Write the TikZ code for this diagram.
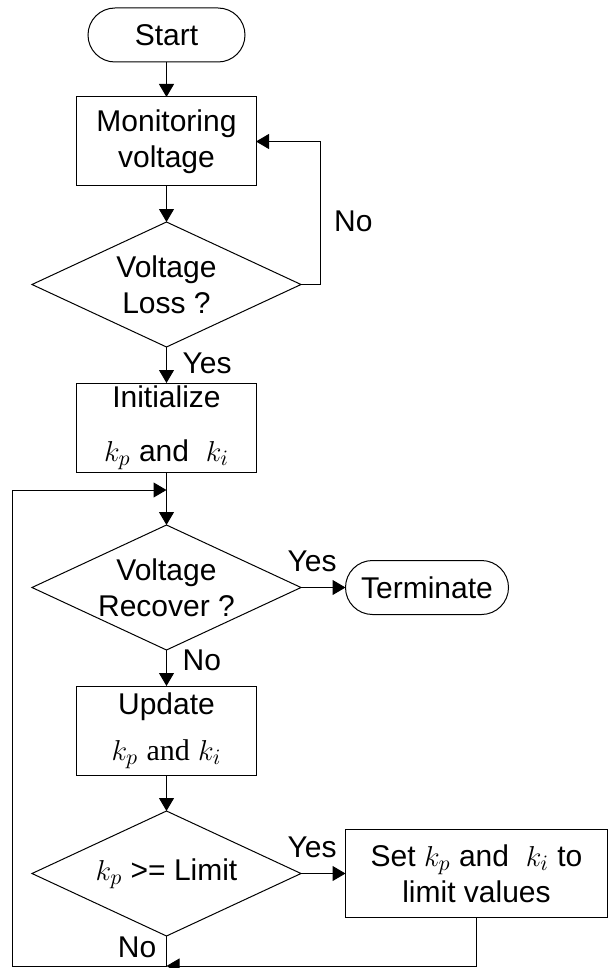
\documentclass[tikz,border=0pt]{standalone}
\usepackage{fontspec}
\setmainfont{Liberation Sans}
\newfontfamily\timesfont{Liberation Serif}
\usepackage{tikz}
\usetikzlibrary{arrows.meta,positioning,shapes.geometric}

\begin{document}
\begin{tikzpicture}[node distance=18pt and 22.25pt,line width=0.5pt,
 every node/.style={font=\fontsize{15}{18}\selectfont},
 box/.style={draw,align=center,minimum width=89.5pt,minimum height=44.5pt,inner sep=1pt,outer sep=0pt},
 terminal/.style={draw,rounded corners=13.5pt,minimum width=78.5pt,minimum height=27pt,inner sep=1pt,outer sep=0pt},
 decision/.style={draw,diamond,aspect=2.16,align=center,minimum width=134.5pt,minimum height=62.5pt,
   inner xsep=-5pt,inner ysep=-1pt,outer sep=0pt},
 arr/.style={-{Triangle[length=6.5pt,width=7.5pt]}}]
\useasboundingbox (-83.25pt,17.5pt) rectangle (221.75pt,-466.5pt);
\node[terminal] (start) {Start};
\node[box,below=17.5pt of start] (monitor) {Monitoring\\voltage};
\node[decision,below=of monitor] (loss) {Voltage\\Loss ?};
\node[box,below=of loss] (init) {Initialize\\[9pt]$k_p$ and\ \ $k_i$};
\node[decision,below=26.5pt of init] (recover) {Voltage\\Recover ?};
\node[terminal,right=of recover,minimum width=81.5pt] (term) {Terminate};
\node[box,below=of recover] (update) {Update\\[5pt]$k_p$ {\timesfont and} $k_i$};
\node[decision,below=of update] (limit) {$k_p$ >= Limit};
\node[box,right=of limit,minimum width=131pt,minimum height=44pt] (setlim) {Set $k_p$ and\ \ $k_i$ to\\limit values};
\coordinate[below=15pt of limit] (bottom);
\coordinate[below=9pt of init] (join);
\draw[arr] (start) -- (monitor);
\draw[arr] (monitor) -- (loss);
\draw[arr] (loss.east) -- ++(9.5pt,0) |- node[pos=0.22,right=3.5pt] {No} (monitor.east);
\draw[arr] (loss) -- node[pos=0.45,right=4.5pt] {Yes} (init);
\draw[arr] (init) -- (recover);
\draw[arr] (recover) -- node[pos=0.25,above=4.5pt] {Yes} (term);
\draw[arr] (recover) -- node[pos=0.3,right=4.5pt] {No} (update);
\draw[arr] (update) -- (limit);
\draw[arr] (limit) -- node[pos=0.25,above=4.5pt] {Yes} (setlim);
\draw[arr] (limit) -- node[pos=0.37,left=1.5pt] {No} (bottom) -- ++(-77pt,0) |- (join);
\draw[arr] (setlim.south) |- (bottom);
\end{tikzpicture}
\end{document}
